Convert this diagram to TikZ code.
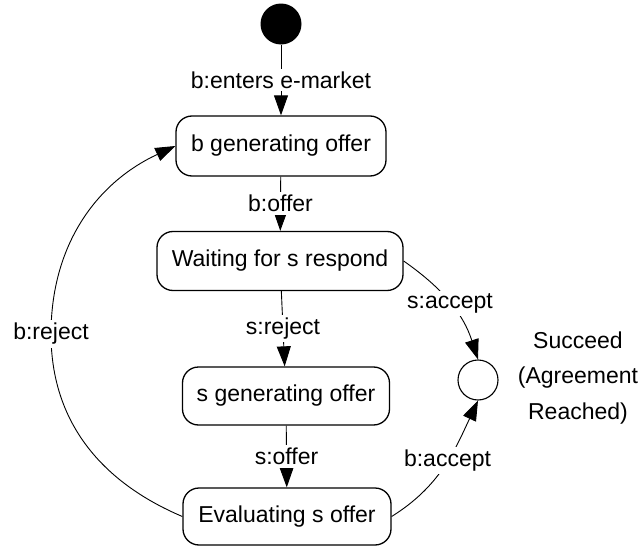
\documentclass[tikz,border=0pt]{standalone}
\usepackage{fontspec}
\setmainfont{Liberation Sans}
\usetikzlibrary{arrows.meta}
\begin{document}
\begin{tikzpicture}[x=1pt,y=1pt,
  every node/.style={font=\fontsize{23}{35.5}\selectfont},
  state/.style={draw, line width=1.3pt, rounded corners=16pt, inner sep=0pt},
  conn/.style={line width=0.9pt, -{Triangle[length=20pt,width=14pt]}},
  lbl/.style={fill=white, inner sep=3pt}]
\useasboundingbox (0,0) rectangle (641,-546);
\node[circle, fill=black, minimum size=41pt, inner sep=0pt] (start) at (281,-24) {};
\node[state, minimum width=210pt, minimum height=60pt] (b1) at (281,-146) {b generating offer};
\node[state, minimum width=246pt, minimum height=59pt] (b2) at (280,-261) {Waiting for s respond};
\node[state, minimum width=207pt, minimum height=58pt] (b3) at (286,-396) {s generating offer};
\node[state, minimum width=208pt, minimum height=57pt] (b4) at (287,-516.5) {Evaluating s offer};
\node[circle, draw, line width=1.1pt, minimum size=40pt, inner sep=0pt] (fin) at (478,-380) {};
\node[align=center, inner sep=0pt] (succ) at (578,-378) {Succeed\\(Agreement\\Reached)};

\draw[conn] (start) -- node[lbl] (l1) {b:enters e-market} (b1);
\draw[conn] (b1) -- node[lbl] (l2) {b:offer} (b2);
\draw[conn] (b2) -- node[lbl] (l3) {s:reject} (b3);
\draw[conn] (b3) -- node[lbl] (l4) {s:offer} (b4);
\draw[conn] (b2.east) to[out=-35, in=108] node[lbl, pos=0.5] (l5) {s:accept} (fin.north);
\draw[conn] (b4.east) to[out=32, in=245] node[lbl, pos=0.55] (l6) {b:accept} (fin.south);
\coordinate (arcL) at (51,-334);
\draw[conn] (b4.west) to[out=157, in=-90] (arcL) to[out=90, in=205] (b1.west);
\node[lbl] (l7) at (arcL) {b:reject};
\end{tikzpicture}
\end{document}
